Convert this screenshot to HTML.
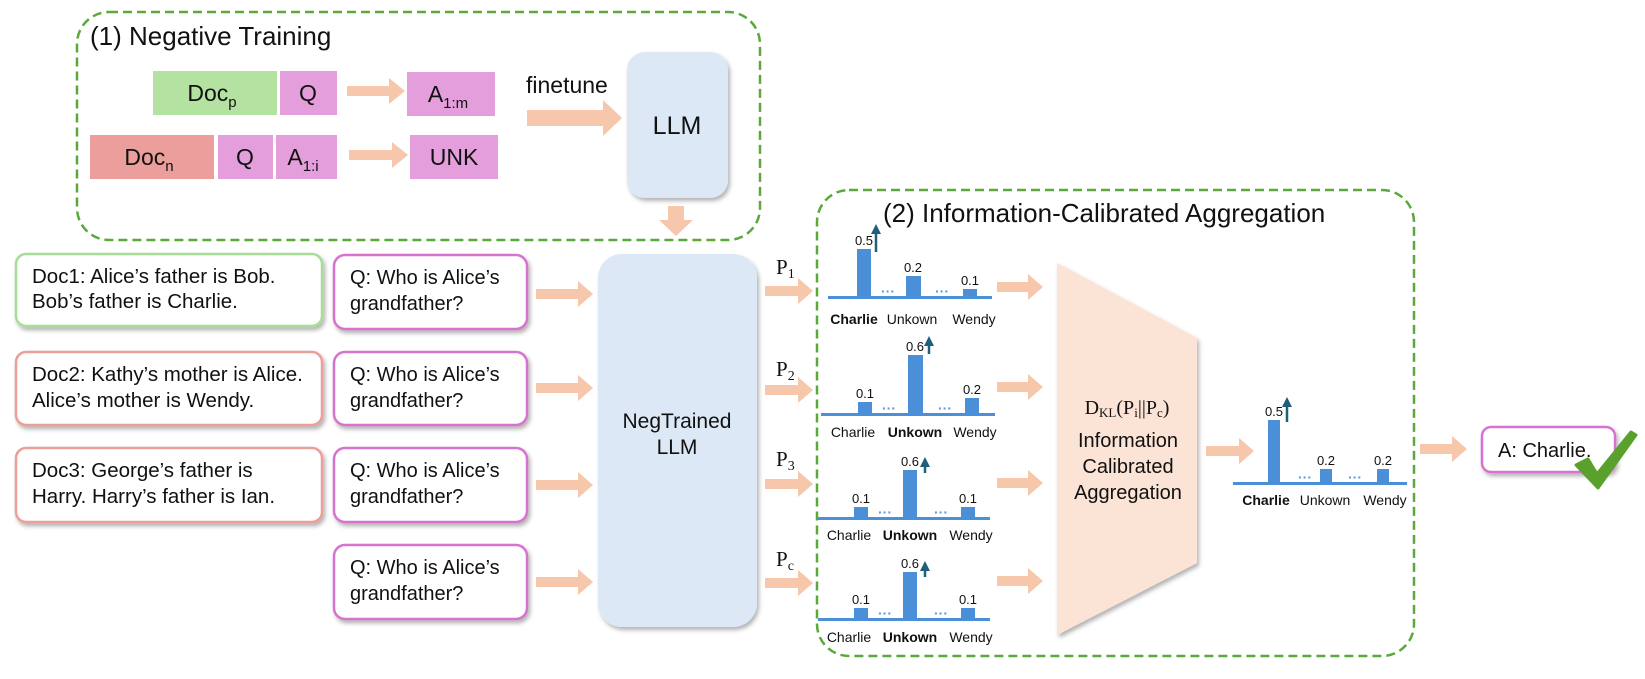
<!DOCTYPE html>
<html><head><meta charset="utf-8"><style>
html,body{margin:0;padding:0;background:#fff;}
svg{display:block;font-family:"Liberation Sans",sans-serif;}
</style></head><body>
<svg width="1645" height="679" viewBox="0 0 1645 679" xmlns="http://www.w3.org/2000/svg">
<defs>
<filter id="sh" x="-10%" y="-10%" width="130%" height="130%"><feDropShadow dx="2" dy="3" stdDeviation="2" flood-color="#000" flood-opacity="0.3"/></filter>
<marker id="ah" markerWidth="4" markerHeight="4" refX="2" refY="2" orient="auto"><path d="M0,0 L4,2 L0,4 z" fill="#1f5f7a"/></marker>
</defs>
<g fill="#f6c7ab">
<path d="M347,86 h42 v-8 l16,13 l-16,13 v-8 h-42z"/>
<path d="M349,150 h43 v-8 l16,13 l-16,13 v-8 h-43z"/>
<path d="M527,110 h76 v-10 l19,18 l-19,18 v-10 h-76z"/>
<path d="M668,206 h16 v14 h9 l-17,16 l-17,-16 h9z"/>
<path d="M536,289 h42 v-8 l15,13 l-15,13 v-8 h-42z"/>
<path d="M536,383 h42 v-8 l15,13 l-15,13 v-8 h-42z"/>
<path d="M536,480 h42 v-8 l15,13 l-15,13 v-8 h-42z"/>
<path d="M536,577 h42 v-8 l15,13 l-15,13 v-8 h-42z"/>
<path d="M765,286 h33 v-8 l15,13 l-15,13 v-8 h-33z"/>
<path d="M765,385 h33 v-8 l15,13 l-15,13 v-8 h-33z"/>
<path d="M765,479 h33 v-8 l15,13 l-15,13 v-8 h-33z"/>
<path d="M765,578 h33 v-8 l15,13 l-15,13 v-8 h-33z"/>
<path d="M997,282 h31 v-8 l15,13 l-15,13 v-8 h-31z"/>
<path d="M997,382 h31 v-8 l15,13 l-15,13 v-8 h-31z"/>
<path d="M997,478 h31 v-8 l15,13 l-15,13 v-8 h-31z"/>
<path d="M997,576 h31 v-8 l15,13 l-15,13 v-8 h-31z"/>
<path d="M1206,446 h33 v-8 l15,13 l-15,13 v-8 h-33z"/>
<path d="M1420,444 h32 v-8 l15,13 l-15,13 v-8 h-32z"/>
</g>
<rect x="77" y="12" width="683" height="228" rx="32" fill="none" stroke="#5aa93a" stroke-width="2.5" stroke-dasharray="9,5"/>
<rect x="817" y="190" width="597" height="466" rx="32" fill="none" stroke="#5aa93a" stroke-width="2.5" stroke-dasharray="9,5"/>
<text x="90" y="45" font-size="26" fill="#111">(1) Negative Training</text>
<text x="883" y="222" font-size="26" fill="#111">(2) Information-Calibrated Aggregation</text>
<g font-size="23" fill="#111" text-anchor="middle">
<rect x="153" y="71" width="124" height="44" fill="#b4e3a1"/>
<text x="212" y="101">Doc<tspan font-size="15" dy="6">p</tspan></text>
<rect x="280" y="71" width="57" height="44" fill="#e39edb"/>
<text x="308" y="101">Q</text>
<rect x="407" y="72" width="88" height="44" fill="#e39edb"/>
<text x="448" y="102">A<tspan font-size="15" dy="6">1:m</tspan></text>
<rect x="90" y="135" width="124" height="44" fill="#eb9e9b"/>
<text x="149" y="165">Doc<tspan font-size="15" dy="6">n</tspan></text>
<rect x="218" y="135" width="55" height="44" fill="#e39edb"/>
<text x="245" y="165">Q</text>
<rect x="276" y="135" width="61" height="44" fill="#e39edb"/>
<text x="303" y="165">A<tspan font-size="15" dy="6">1:i</tspan></text>
<rect x="410" y="135" width="88" height="44" fill="#e39edb"/>
<text x="454" y="165">UNK</text>
</g>
<text x="526" y="93" font-size="23" fill="#111">finetune</text>
<rect x="627" y="52" width="101" height="146" rx="18" fill="#dce8f5" filter="url(#sh)"/>
<text x="677" y="134" font-size="25" fill="#111" text-anchor="middle">LLM</text>
<g font-size="20.5" fill="#111">
<rect x="16" y="254" width="306" height="72" rx="10" fill="#fff" stroke="#a8dc98" stroke-width="2.5" filter="url(#sh)"/>
<text x="32" y="283">Doc1: Alice’s father is Bob.</text><text x="32" y="308">Bob’s father is Charlie.</text>
<rect x="16" y="352" width="306" height="73" rx="10" fill="#fff" stroke="#ec9e98" stroke-width="2.5" filter="url(#sh)"/>
<text x="32" y="381">Doc2: Kathy’s mother is Alice.</text><text x="32" y="407">Alice’s mother is Wendy.</text>
<rect x="16" y="448" width="306" height="74" rx="10" fill="#fff" stroke="#ec9e98" stroke-width="2.5" filter="url(#sh)"/>
<text x="32" y="477">Doc3: George’s father is</text><text x="32" y="503">Harry. Harry’s father is Ian.</text>
</g>
<g font-size="20" fill="#111">
<rect x="334" y="255" width="193" height="74" rx="11" fill="#fff" stroke="#d872cf" stroke-width="2.5" filter="url(#sh)"/>
<text x="350" y="284">Q: Who is Alice’s</text><text x="350" y="310">grandfather?</text>
<rect x="334" y="352" width="193" height="73" rx="11" fill="#fff" stroke="#d872cf" stroke-width="2.5" filter="url(#sh)"/>
<text x="350" y="381">Q: Who is Alice’s</text><text x="350" y="407">grandfather?</text>
<rect x="334" y="448" width="193" height="74" rx="11" fill="#fff" stroke="#d872cf" stroke-width="2.5" filter="url(#sh)"/>
<text x="350" y="477">Q: Who is Alice’s</text><text x="350" y="503">grandfather?</text>
<rect x="334" y="545" width="193" height="74" rx="11" fill="#fff" stroke="#d872cf" stroke-width="2.5" filter="url(#sh)"/>
<text x="350" y="574">Q: Who is Alice’s</text><text x="350" y="600">grandfather?</text>
</g>
<rect x="598" y="254" width="159" height="373" rx="24" fill="#dce8f5" filter="url(#sh)"/>
<text x="677" y="428" font-size="21" fill="#111" text-anchor="middle">NegTrained</text>
<text x="677" y="454" font-size="21" fill="#111" text-anchor="middle">LLM</text>
<g font-family="Liberation Serif,serif" font-size="21" fill="#111">
<text x="776" y="274">P<tspan font-size="14" dy="4">1</tspan></text>
<text x="776" y="376">P<tspan font-size="14" dy="4">2</tspan></text>
<text x="776" y="466">P<tspan font-size="14" dy="4">3</tspan></text>
<text x="776" y="566">P<tspan font-size="14" dy="4">c</tspan></text>
</g>
<g fill="#4a8fd8">
<rect x="828" y="296" width="164" height="3"/>
<rect x="857" y="249" width="14" height="49"/><rect x="906" y="276" width="15" height="22"/><rect x="963" y="289" width="14" height="9"/>
<rect x="821" y="413" width="174" height="3"/>
<rect x="858" y="402" width="14" height="13"/><rect x="908" y="355" width="15" height="60"/><rect x="965" y="398" width="14" height="17"/>
<rect x="818" y="517" width="172" height="3"/>
<rect x="854" y="507" width="14" height="12"/><rect x="903" y="470" width="14" height="49"/><rect x="961" y="507" width="14" height="12"/>
<rect x="818" y="618" width="172" height="3"/>
<rect x="854" y="608" width="14" height="12"/><rect x="903" y="572" width="14" height="48"/><rect x="961" y="608" width="14" height="12"/>
<rect x="1233" y="482" width="174" height="3"/>
<rect x="1268" y="420" width="12" height="64"/><rect x="1320" y="469" width="12" height="15"/><rect x="1377" y="469" width="12" height="15"/>
</g>
<g font-size="14" fill="#5a9be0" text-anchor="middle" font-weight="bold">
<text x="888" y="296">···</text><text x="942" y="296">···</text>
<text x="889" y="413">···</text><text x="945" y="413">···</text>
<text x="885" y="517">···</text><text x="941" y="517">···</text>
<text x="885" y="618">···</text><text x="941" y="618">···</text>
<text x="1305" y="482">···</text><text x="1355" y="482">···</text>
</g>
<g font-size="13" fill="#111" text-anchor="middle">
<text x="864" y="245">0.5</text><text x="913" y="272">0.2</text><text x="970" y="285">0.1</text>
<text x="865" y="398">0.1</text><text x="915" y="351">0.6</text><text x="972" y="394">0.2</text>
<text x="861" y="503">0.1</text><text x="910" y="466">0.6</text><text x="968" y="503">0.1</text>
<text x="861" y="604">0.1</text><text x="910" y="568">0.6</text><text x="968" y="604">0.1</text>
<text x="1274" y="416">0.5</text><text x="1326" y="465">0.2</text><text x="1383" y="465">0.2</text>
</g>
<g stroke="#1f5f7a" stroke-width="2.5" marker-end="url(#ah)">
<line x1="876" y1="252" x2="876" y2="229"/>
<line x1="929" y1="354" x2="929" y2="341"/>
<line x1="925" y1="473" x2="925" y2="462"/>
<line x1="925" y1="577" x2="925" y2="566"/>
<line x1="1287" y1="422" x2="1287" y2="402"/>
</g>
<g font-size="14" fill="#111" text-anchor="middle">
<text x="854" y="324" font-weight="bold">Charlie</text><text x="912" y="324">Unkown</text><text x="974" y="324">Wendy</text>
<text x="853" y="437">Charlie</text><text x="915" y="437" font-weight="bold">Unkown</text><text x="975" y="437">Wendy</text>
<text x="849" y="540">Charlie</text><text x="910" y="540" font-weight="bold">Unkown</text><text x="971" y="540">Wendy</text>
<text x="849" y="642">Charlie</text><text x="910" y="642" font-weight="bold">Unkown</text><text x="971" y="642">Wendy</text>
<text x="1266" y="505" font-weight="bold">Charlie</text><text x="1325" y="505">Unkown</text><text x="1385" y="505">Wendy</text>
</g>
<polygon points="1057,263 1197,338 1197,563 1057,635" fill="#fbe3d6" filter="url(#sh)"/>
<text x="1127" y="414" font-family="Liberation Serif,serif" font-size="20" fill="#111" text-anchor="middle">D<tspan font-size="13" dy="3">KL</tspan><tspan dy="-3">(P</tspan><tspan font-size="13" dy="3">i</tspan><tspan dy="-3">||P</tspan><tspan font-size="13" dy="3">c</tspan><tspan dy="-3">)</tspan></text>
<g font-size="20" fill="#111" text-anchor="middle">
<text x="1128" y="447">Information</text><text x="1128" y="473">Calibrated</text><text x="1128" y="499">Aggregation</text>
</g>
<rect x="1482" y="427" width="133" height="45" rx="9" fill="#fff" stroke="#d872cf" stroke-width="2.5" filter="url(#sh)"/>
<text x="1498" y="457" font-size="20" fill="#111">A: Charlie.</text>
<path d="M1576,465 L1588,459 L1597,474 L1631,432 L1636,435 L1598,488 Z" fill="#5aa02c" stroke="#5aa02c" stroke-width="3" stroke-linejoin="round"/>
</svg>
</body></html>
